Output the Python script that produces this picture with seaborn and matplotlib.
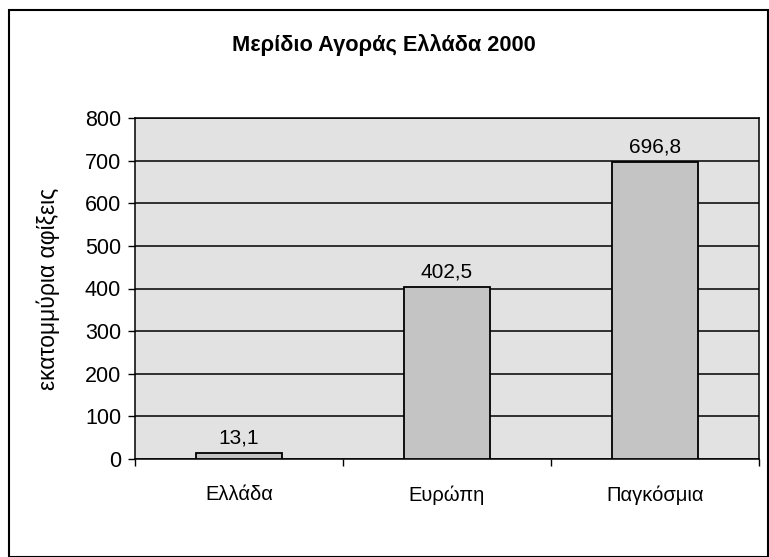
import matplotlib
matplotlib.use("Agg")
import matplotlib.pyplot as plt
import seaborn as sns
import pandas as pd
from matplotlib.patches import Rectangle
from matplotlib.ticker import FixedLocator

categories = ["Ελλάδα", "Ευρώπη", "Παγκόσμια"]
values = [13.1, 402.5, 696.8]
y_ticks = [0, 100, 200, 300, 400, 500, 600, 700, 800]
title = "Μερίδιο Αγοράς Ελλάδα 2000"
ylabel = "εκατομμύρια αφίξεις"

sns.set_theme(style="white")
plt.rcParams["font.family"] = ["Liberation Sans", "DejaVu Sans"]
plt.rcParams["text.color"] = "black"
plt.rcParams["axes.labelcolor"] = "black"
plt.rcParams["xtick.color"] = "black"
plt.rcParams["ytick.color"] = "black"

df = pd.DataFrame({"cat": categories, "val": values})

fig = plt.figure(figsize=(7.69, 5.57), dpi=100)
fig.patch.set_facecolor("white")
ax = fig.add_axes([135/769, 1-459/557, (759-135)/769, (459-118)/557])
ax.set_facecolor("#e2e2e2")

sns.barplot(data=df, x="cat", y="val", ax=ax, color="#c4c4c4",
            edgecolor="black", linewidth=1.3, width=0.41, saturation=1, zorder=3)

ax.set_ylim(0, 800)
ax.set_xlim(-0.5, 2.5)
ax.set_yticks(y_ticks)
ax.set_yticklabels([str(t) for t in y_ticks], fontsize=15.5, color="black")
ax.yaxis.grid(True, color="black", linewidth=1.1, zorder=1)
ax.set_axisbelow(True)

ax.set_xticks(range(len(categories)))
ax.set_xticklabels(categories, fontsize=14.5, color="black")
ax.xaxis.set_minor_locator(FixedLocator([-0.5, 0.5, 1.5, 2.5]))
ax.tick_params(axis="x", which="major", length=0, pad=19)
ax.tick_params(axis="x", which="minor", length=5, width=1, color="black", bottom=True)
ax.tick_params(axis="y", length=5, width=1, color="black", left=True, pad=5)

for s in ax.spines.values():
    s.set_visible(True)
    s.set_color("black")
    s.set_linewidth(1.1)

ax.set_xlabel("")
ax.set_ylabel(ylabel, fontsize=16.5, color="black")
ax.yaxis.set_label_coords(-0.120, 0.5)

labels = [f"{v:.1f}".replace(".", ",") for v in values]
ax.bar_label(ax.containers[0], labels=labels, fontsize=15, padding=4, color="black")

fig.text(384/769, 1-45/557, title, ha="center", va="center",
         fontsize=15.7, fontweight="bold", color="black")

fig.patches.append(Rectangle((9/769, 0), (769-9)/769 - 0.001, 1-10/557,
                             transform=fig.transFigure, fill=False,
                             edgecolor="black", linewidth=1.5))

fig.savefig("out.png", dpi=100)
